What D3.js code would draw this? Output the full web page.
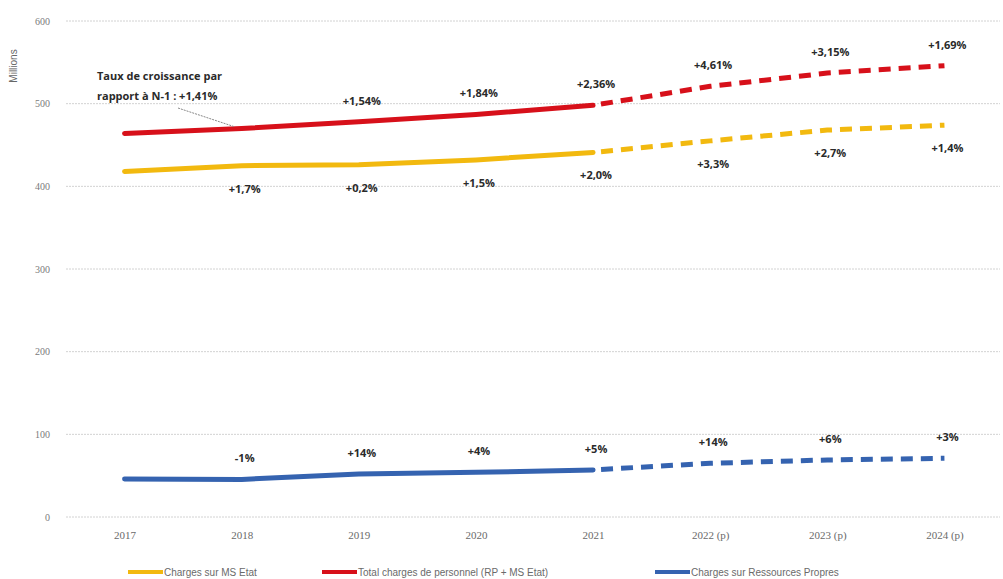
<!DOCTYPE html>
<html>
<head>
<meta charset="utf-8">
<script src="https://cdn.jsdelivr.net/npm/d3@7"></script>
<style>
  body { margin: 0; background: #fff; }
  svg { display: block; }
</style>
</head>
<body>
<script>
// data (millions)
var years = ['2017', '2018', '2019', '2020', '2021', '2022 (p)', '2023 (p)', '2024 (p)'];
var chargesMS = [418, 425, 426, 432, 441, 455, 468, 474];
var totalCharges = [464, 470, 478, 487, 498, 521, 537, 546];
var ressourcesPropres = [46, 45.5, 52, 54, 57, 65, 69, 71];
var labelsMS = ['', '+1,7%', '+0,2%', '+1,5%', '+2,0%', '+3,3%', '+2,7%', '+1,4%'];
var labelsTotal = ['', '', '+1,54%', '+1,84%', '+2,36%', '+4,61%', '+3,15%', '+1,69%'];
var labelsRP = ['', '-1%', '+14%', '+4%', '+5%', '+14%', '+6%', '+3%'];
var yTicks = [0, 100, 200, 300, 400, 500, 600];
var lastActual = 4; // 2021, later years are forecasts

var svgWidth = 1003, svgHeight = 579;
var plotLeft = 66, plotRight = 1003, plotTop = 21, plotBottom = 517;

var svg = d3.select('body').append('svg')
  .attr('width', svgWidth)
  .attr('height', svgHeight);

var x = d3.scalePoint()
  .domain(years)
  .range([plotLeft, plotRight])
  .padding(0.5);

var y = d3.scaleLinear()
  .domain([0, 600])
  .range([plotBottom, plotTop]);

// gridlines
svg.selectAll('.grid')
  .data(yTicks)
  .enter()
  .append('line')
  .attr('x1', plotLeft)
  .attr('x2', plotRight - 3)
  .attr('y1', function(d) { return y(d); })
  .attr('y2', function(d) { return y(d); })
  .attr('stroke', '#d2d2d2')
  .attr('stroke-width', 1)
  .attr('stroke-dasharray', '2,1');

var yAxis = svg.append('g')
  .attr('transform', `translate(${plotLeft - 12},0)`)
  .call(d3.axisLeft(y).tickValues(yTicks).tickSize(0).tickPadding(4));
yAxis.select('.domain').remove();
yAxis.selectAll('text')
  .attr('font-family', 'Liberation Serif')
  .attr('font-size', '10px')
  .attr('fill', '#7a7a7a');

var xAxis = svg.append('g')
  .attr('transform', `translate(0,${plotBottom + 8})`)
  .call(d3.axisBottom(x).tickSize(0).tickPadding(6));
xAxis.select('.domain').remove();
xAxis.selectAll('text')
  .attr('font-family', 'Liberation Serif')
  .attr('font-size', '11px')
  .attr('fill', '#6a6a6a');

svg.append('text')
  .text('Millions')
  .attr('transform', 'translate(17,66)rotate(-90)')
  .attr('text-anchor', 'middle')
  .attr('font-family', 'Liberation Sans')
  .attr('font-size', '10px')
  .attr('fill', '#666');

var series = [
  { name: 'Charges sur MS Etat', values: chargesMS, color: '#f2b90f' },
  { name: 'Total charges de personnel (RP + MS Etat)', values: totalCharges, color: '#d7101a' },
  { name: 'Charges sur Ressources Propres', values: ressourcesPropres, color: '#3563b0' }
];

var line = d3.line()
  .x(function(d) { return x(d.year); })
  .y(function(d) { return y(d.value); });

series.forEach(function(s) {
  var pts = s.values.map(function(v, i) { return { year: years[i], value: v }; });
  // actual years, solid
  svg.append('path')
    .datum(pts.slice(0, lastActual + 1))
    .attr('d', line)
    .attr('fill', 'none')
    .attr('stroke', s.color)
    .attr('stroke-width', 5)
    .attr('stroke-linecap', 'round');
  // forecasts, dashed
  svg.append('path')
    .datum(pts.slice(lastActual))
    .attr('d', line)
    .attr('fill', 'none')
    .attr('stroke', s.color)
    .attr('stroke-width', 5)
    .attr('stroke-dasharray', '12,8')
    .attr('stroke-dashoffset', -8);
});

function drawLabels(values, labels, dy) {
  labels.forEach(function(lab, i) {
    if (lab === '') return;
    svg.append('text')
      .text(lab)
      .attr('x', x(years[i]) + 3)
      .attr('y', y(values[i]) + dy)
      .attr('text-anchor', 'middle')
      .attr('font-family', 'Open Sans')
      .attr('font-weight', 'bold')
      .attr('font-size', '11px')
      .attr('fill', '#2a2a2a');
  });
}

drawLabels(totalCharges, labelsTotal, -17);
drawLabels(chargesMS, labelsMS, 27);
drawLabels(ressourcesPropres, labelsRP, -17);

// annotation for the first growth rate
var annot = svg.append('text')
  .attr('font-family', 'Open Sans')
  .attr('font-weight', 'bold')
  .attr('font-size', '11px')
  .attr('fill', '#2a2a2a');
annot.append('tspan').attr('x', 97).attr('y', 80).text('Taux de croissance par');
annot.append('tspan').attr('x', 97).attr('y', 100).text('rapport à N-1 : +1,41%');

svg.append('line')
  .attr('x1', 178).attr('y1', 108)
  .attr('x2', x(years[1]) - 8).attr('y2', y(totalCharges[1]) - 2)
  .attr('stroke', '#888')
  .attr('stroke-width', 1)
  .attr('stroke-dasharray', '2,1');

// legend
var legendX = [128, 322, 655];
var legend = svg.selectAll('.legend')
  .data(series)
  .enter()
  .append('g')
  .attr('transform', function(d, i) { return `translate(${legendX[i]},572)`; });
legend.append('line')
  .attr('x1', 0).attr('x2', 35)
  .attr('y1', 0).attr('y2', 0)
  .attr('stroke', function(d) { return d.color; })
  .attr('stroke-width', 4);
legend.append('text')
  .text(function(d) { return d.name; })
  .attr('x', 36)
  .attr('y', 4)
  .attr('font-family', 'Liberation Sans')
  .attr('font-size', '10px')
  .attr('fill', '#6a6a6a');
</script>
</body>
</html>
